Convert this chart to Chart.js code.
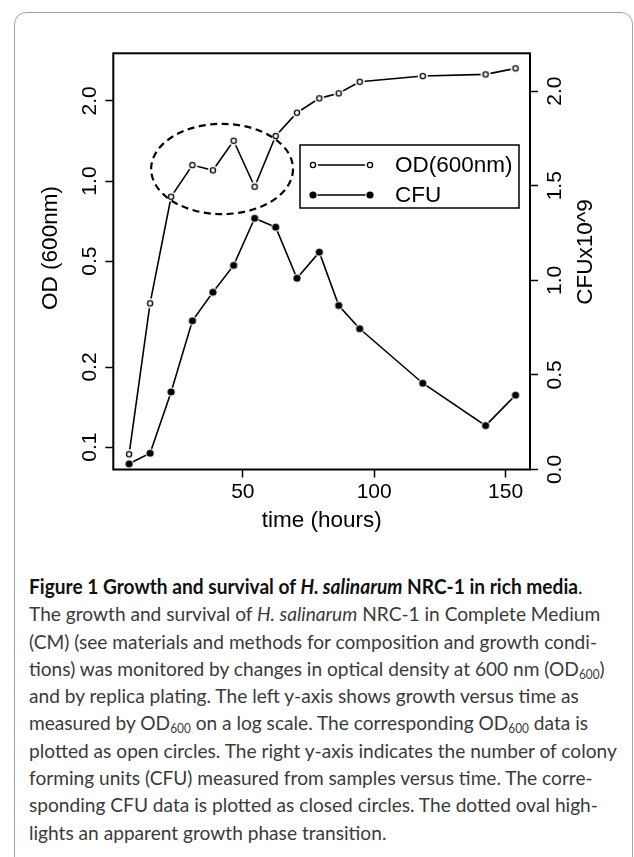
<!DOCTYPE html>
<html>
<head>
<meta charset="utf-8">
<script src="https://cdn.jsdelivr.net/npm/chart.js@4.4.1/dist/chart.umd.min.js"></script>
<style>
  html, body { margin: 0; padding: 0; background: #fff; }
  body { width: 634px; height: 857px; position: relative; overflow: hidden; }
  #frame { position: absolute; left: 14px; top: 12px; width: 619px; height: 900px;
           border: 1px solid #a3a3a3; border-radius: 12px; box-sizing: border-box; }
  #plot { position: absolute; left: 0; top: 0; width: 634px; height: 560px; }
  #cap { position: absolute; left: 29px; top: 573px; font-family: Lato, "Open Sans", sans-serif; }
  .ln { white-space: nowrap; height: 27.3px; line-height: 27.3px; font-size: 20px; color: #3a3a3a;
        transform-origin: 0 50%; }
  .ln.head { color: #111; }
  .ln.head b { font-weight: 700; }
  .ln sub { font-size: 0.62em; line-height: 0; vertical-align: -0.25em; }
</style>
</head>
<body>
<div id="frame"></div>
<canvas id="plot" width="634" height="560"></canvas>
<div id="cap">
  <div class="ln head"><b>Figure 1 Growth and survival of <i>H. salinarum</i> NRC-1 in rich media</b>.</div>
  <div class="ln body">The growth and survival of <i>H. salinarum</i> NRC-1 in Complete Medium</div>
  <div class="ln body">(CM) (see materials and methods for composition and growth condi-</div>
  <div class="ln body">tions) was monitored by changes in optical density at 600 nm (OD<sub>600</sub>)</div>
  <div class="ln body">and by replica plating. The left y-axis shows growth versus time as</div>
  <div class="ln body">measured by OD<sub>600</sub> on a log scale. The corresponding OD<sub>600</sub> data is</div>
  <div class="ln body">plotted as open circles. The right y-axis indicates the number of colony</div>
  <div class="ln body">forming units (CFU) measured from samples versus time. The corre-</div>
  <div class="ln body">sponding CFU data is plotted as closed circles. The dotted oval high-</div>
  <div class="ln body">lights an apparent growth phase transition.</div>
</div>
<script>
// data
const hours = [6.7, 14.7, 22.7, 30.8, 38.6, 46.5, 54.5, 62.5, 70.6, 79.1, 86.5, 94.5, 118.5, 142.4, 153.8];
const od600 = [0.094, 0.347, 0.873, 1.148, 1.097, 1.417, 0.952, 1.476, 1.806, 2.045, 2.136, 2.36, 2.48, 2.516, 2.651];
const cfu = [0.03, 0.086, 0.41, 0.786, 0.937, 1.079, 1.328, 1.281, 1.011, 1.149, 0.867, 0.744, 0.456, 0.232, 0.393];

const hourTicks = [50, 100, 150];
const odTicks = [0.1, 0.2, 0.5, 1.0, 2.0];
const cfuTicks = [0, 0.5, 1.0, 1.5, 2.0];

// dotted oval around the transition (data units)
const oval = { x0: 15.1, x1: 69.1, yLow: 0.751, yHigh: 1.64 };

const FONT = '"Liberation Sans", Arial, Helvetica, sans-serif';

// point glyphs with a white halo, like R's type="b"
function sprite(r, halo, filled) {
  const s = Math.ceil(halo) * 2 + 2;
  const c = document.createElement('canvas');
  c.width = c.height = s;
  const g = c.getContext('2d');
  g.fillStyle = '#fff';
  g.beginPath(); g.arc(s / 2, s / 2, halo, 0, Math.PI * 2); g.fill();
  g.beginPath(); g.arc(s / 2, s / 2, r, 0, Math.PI * 2);
  if (filled) { g.fillStyle = '#000'; g.fill(); }
  else { g.lineWidth = 1.3; g.strokeStyle = '#000'; g.stroke(); }
  return c;
}
const openDot = sprite(2.6, 5, false);
const fullDot = sprite(3.6, 4.6, true);

const fmt1 = v => Number(v).toFixed(1);

const extras = {
  id: 'extras',
  afterDatasetsDraw(chart) {
    const { ctx, scales: { x, y } } = chart;
    const l = x.getPixelForValue(oval.x0), r = x.getPixelForValue(oval.x1);
    const t = y.getPixelForValue(oval.yHigh), b = y.getPixelForValue(oval.yLow);
    ctx.save();
    ctx.strokeStyle = '#000';
    ctx.lineWidth = 2.2;
    ctx.setLineDash([7, 4.5]);
    ctx.beginPath();
    ctx.ellipse((l + r) / 2, (t + b) / 2, (r - l) / 2, (b - t) / 2, 0, 0, Math.PI * 2);
    ctx.stroke();
    ctx.restore();
  },
  afterDraw(chart) {
    const { ctx, chartArea: a, scales: { y, y1 } } = chart;
    ctx.save();
    ctx.strokeStyle = '#000';
    ctx.lineWidth = 2;
    ctx.strokeRect(a.left, a.top, a.right - a.left, a.bottom - a.top);

    // rotated axis labels
    ctx.fillStyle = '#000';
    ctx.textAlign = 'center';
    ctx.textBaseline = 'middle';
    const rot = (txt, px, py) => {
      ctx.save(); ctx.translate(px, py); ctx.rotate(-Math.PI / 2);
      ctx.fillText(txt, 0, 0); ctx.restore();
    };
    ctx.font = '21px ' + FONT;
    y.ticks.forEach(tk => rot(fmt1(tk.value), a.left - 23, y.getPixelForValue(tk.value)));
    y1.ticks.forEach(tk => rot(fmt1(tk.value), a.right + 25, y1.getPixelForValue(tk.value)));
    ctx.font = '22.5px ' + FONT;
    rot('OD (600nm)', 50.5, 248);
    rot('CFUx10^9', 586, 252);

    // legend
    const bx = 300, by = 145, bw = 219, bh = 63;
    ctx.lineWidth = 1.5;
    ctx.strokeRect(bx, by, bw, bh);
    ctx.textAlign = 'left';
    chart.data.datasets.forEach((ds, i) => {
      const ly = 165 + i * 30;
      ctx.beginPath();
      ctx.lineWidth = ds.borderWidth;
      ctx.moveTo(313, ly); ctx.lineTo(370, ly); ctx.stroke();
      const img = ds.pointStyle;
      ctx.drawImage(img, 313 - img.width / 2, ly - img.height / 2);
      ctx.drawImage(img, 370 - img.width / 2, ly - img.height / 2);
      ctx.fillText(ds.label, 395, ly + 1);
    });
    ctx.restore();
  }
};

new Chart(document.getElementById('plot'), {
  type: 'line',
  data: {
    datasets: [{
      label: 'OD(600nm)',
      data: hours.map((h, i) => ({ x: h, y: od600[i] })),
      yAxisID: 'y',
      borderColor: '#000',
      borderWidth: 1.6,
      pointStyle: openDot,
      pointRadius: 4,
      tension: 0
    }, {
      label: 'CFU',
      data: hours.map((h, i) => ({ x: h, y: cfu[i] })),
      yAxisID: 'y1',
      borderColor: '#000',
      borderWidth: 1.6,
      pointStyle: fullDot,
      pointRadius: 4,
      tension: 0
    }]
  },
  options: {
    responsive: false,
    animation: false,
    devicePixelRatio: 1,
    layout: { padding: { top: 53.3, left: 0, right: 0, bottom: 0 } },
    plugins: { legend: { display: false }, tooltip: { enabled: false } },
    scales: {
      x: {
        type: 'linear',
        min: 0.7,
        max: 159.3,
        afterBuildTicks: s => { s.ticks = hourTicks.map(v => ({ value: v })); },
        afterFit: s => { s.height = 90.5; },
        border: { display: false },
        grid: { drawOnChartArea: false, tickLength: 8, tickColor: '#000', tickWidth: 1.5 },
        ticks: { color: '#000', font: { family: FONT, size: 21 }, padding: 2, maxRotation: 0, autoSkip: false },
        title: { display: true, text: 'time (hours)', color: '#000', font: { family: FONT, size: 22.5 },
                 padding: { top: 0, bottom: 26 } }
      },
      y: {
        type: 'logarithmic',
        position: 'left',
        min: 0.0824,
        max: 3.02,
        afterBuildTicks: s => { s.ticks = odTicks.map(v => ({ value: v })); },
        afterFit: s => { s.width = 113.3; },
        border: { display: false },
        grid: { drawOnChartArea: false, tickLength: 8, tickColor: '#000', tickWidth: 1.5 },
        ticks: { display: false }
      },
      y1: {
        type: 'linear',
        position: 'right',
        min: 0,
        max: 2.2,
        afterBuildTicks: s => { s.ticks = cfuTicks.map(v => ({ value: v })); },
        afterFit: s => { s.width = 104; },
        border: { display: false },
        grid: { drawOnChartArea: false, tickLength: 8, tickColor: '#000', tickWidth: 1.5 },
        ticks: { display: false }
      }
    }
  },
  plugins: [extras]
});

// squeeze caption lines to the column width of the original
const head = document.querySelector('.ln.head');
const first = document.querySelector('.ln.body');
const kHead = 588 / head.scrollWidth;
const kBody = 588 / first.scrollWidth;
head.style.transform = 'scaleX(' + kHead + ')';
document.querySelectorAll('.ln.body').forEach(el => { el.style.transform = 'scaleX(' + kBody + ')'; });
</script>
</body>
</html>
